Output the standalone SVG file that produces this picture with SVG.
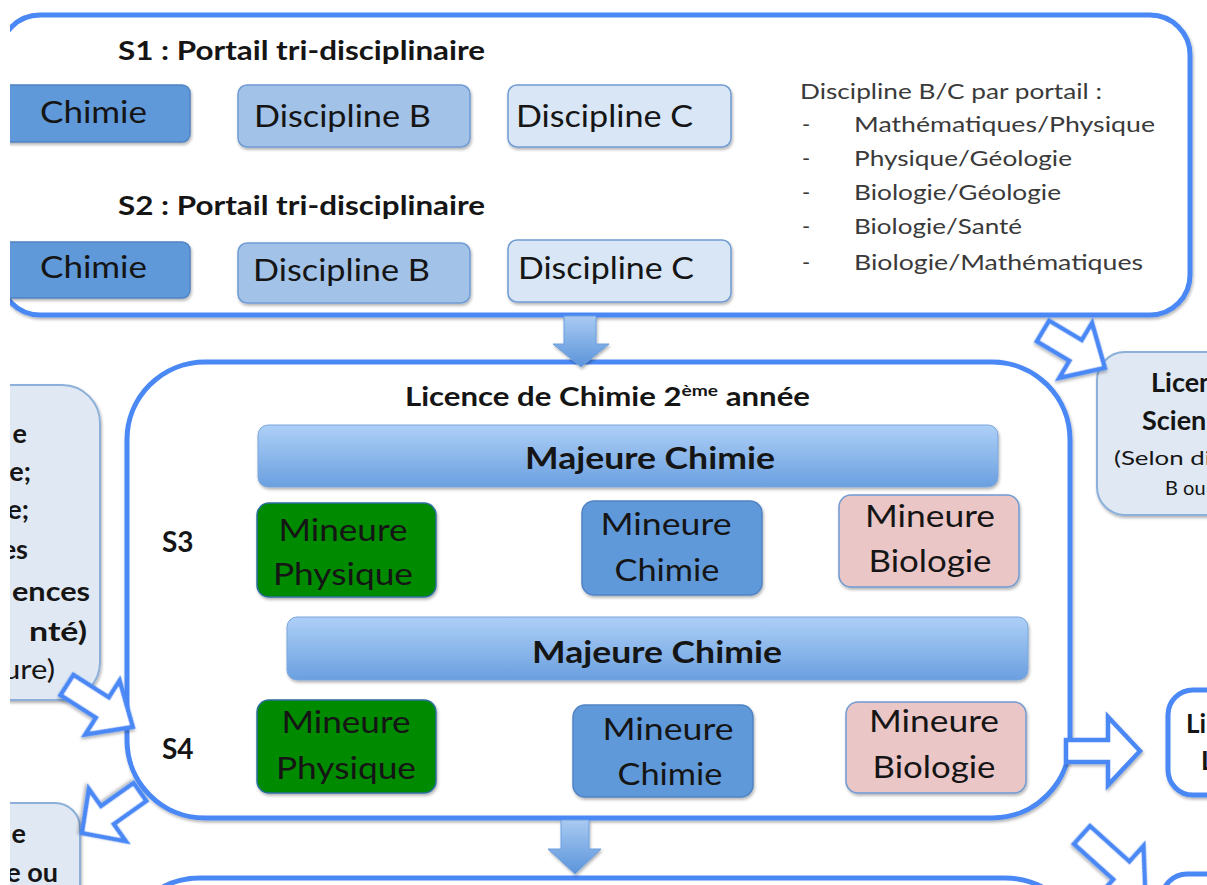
<svg xmlns="http://www.w3.org/2000/svg" width="1207" height="885" viewBox="0 0 1207 885">
<defs>
<style>
.t{font-family:Lato,"Open Sans","Liberation Sans",sans-serif;fill:#151515}
.b{font-weight:bold}
.big{fill:#fff;stroke:#4a88f5;stroke-width:5}
.arr{fill:#fff;stroke:#4a88f5;stroke-width:4.5;stroke-linejoin:miter}
.down{fill:url(#gArr);stroke:#6d9fe0;stroke-width:1}
.side{fill:#dfe8f3;stroke:#8cb0da;stroke-width:2}
.c1{fill:#6199d9;stroke:#4f83c4;stroke-width:1.5}
.c2{fill:#a2c2e8;stroke:#6f9bd3;stroke-width:1.5}
.c3{fill:#d9e6f5;stroke:#6f9bd3;stroke-width:1.5}
.gr{fill:#008a00;stroke:#2c6f9f;stroke-width:1.5}
.pk{fill:#ebc6c6;stroke:#6f9bd3;stroke-width:1.5}
.bar{fill:url(#gBar);stroke:#7aa6dc;stroke-width:1}
.f30{font-size:30px}
.gray{fill:#3a3a3a}
</style>
<linearGradient id="gBar" x1="0" y1="0" x2="0" y2="1">
<stop offset="0" stop-color="#aed0f7"/>
<stop offset="1" stop-color="#6a9fe0"/>
</linearGradient>
<linearGradient id="gArr" x1="0" y1="0" x2="0" y2="1">
<stop offset="0" stop-color="#a9caf2"/>
<stop offset="1" stop-color="#5a94da"/>
</linearGradient>
<filter id="sh" x="-10%" y="-10%" width="130%" height="140%">
<feDropShadow dx="1" dy="2" stdDeviation="1.5" flood-color="#000" flood-opacity="0.3"/>
</filter>
<clipPath id="clip"><rect x="10" y="0" width="1197" height="885"/></clipPath>
</defs>
<rect x="0" y="0" width="1207" height="885" fill="#fff"/>
<g clip-path="url(#clip)">

<g id="node-portail">
<rect class="big" x="0" y="15" width="1190" height="300" rx="40" filter="url(#sh)"/>
<text class="t b" x="118" y="60" font-size="26" textLength="367" lengthAdjust="spacingAndGlyphs">S1 : Portail tri-disciplinaire</text>
<text class="t b" x="118" y="215" font-size="26" textLength="367" lengthAdjust="spacingAndGlyphs">S2 : Portail tri-disciplinaire</text>
<g id="s1-chimie"><rect class="c1" x="0" y="85" width="190" height="57" rx="8" filter="url(#sh)"/>
<text class="t f30" x="40" y="123" textLength="107" lengthAdjust="spacingAndGlyphs">Chimie</text></g>
<g id="s1-discB"><rect class="c2" x="238" y="85" width="232" height="62" rx="9" filter="url(#sh)"/>
<text class="t f30" x="254" y="127" textLength="177" lengthAdjust="spacingAndGlyphs">Discipline B</text></g>
<g id="s1-discC"><rect class="c3" x="508" y="85" width="223" height="62" rx="9" filter="url(#sh)"/>
<text class="t f30" x="516" y="127" textLength="177" lengthAdjust="spacingAndGlyphs">Discipline C</text></g>
<g id="s2-chimie"><rect class="c1" x="0" y="242" width="190" height="56" rx="8" filter="url(#sh)"/>
<text class="t f30" x="40" y="278" textLength="107" lengthAdjust="spacingAndGlyphs">Chimie</text></g>
<g id="s2-discB"><rect class="c2" x="238" y="243" width="232" height="60" rx="9" filter="url(#sh)"/>
<text class="t f30" x="253" y="281" textLength="177" lengthAdjust="spacingAndGlyphs">Discipline B</text></g>
<g id="s2-discC"><rect class="c3" x="508" y="240" width="223" height="62" rx="9" filter="url(#sh)"/>
<text class="t f30" x="518" y="279" textLength="176" lengthAdjust="spacingAndGlyphs">Discipline C</text></g>
<g id="liste" class="t gray" font-size="22">
<text x="800" y="99" textLength="302" lengthAdjust="spacingAndGlyphs">Discipline B/C par portail :</text>
<text x="802" y="132">-</text><text x="854" y="132" textLength="301" lengthAdjust="spacingAndGlyphs">Mathématiques/Physique</text>
<text x="802" y="166">-</text><text x="854" y="166" textLength="218" lengthAdjust="spacingAndGlyphs">Physique/Géologie</text>
<text x="802" y="200">-</text><text x="854" y="200" textLength="207" lengthAdjust="spacingAndGlyphs">Biologie/Géologie</text>
<text x="802" y="234">-</text><text x="854" y="234" textLength="168" lengthAdjust="spacingAndGlyphs">Biologie/Santé</text>
<text x="802" y="270">-</text><text x="854" y="270" textLength="289" lengthAdjust="spacingAndGlyphs">Biologie/Mathématiques</text>
</g>
</g>

<g id="node-licence-sciences">
<rect class="side" x="1097" y="352" width="160" height="163" rx="28" filter="url(#sh)"/>
<text class="t b" x="1151" y="392" font-size="27">Licen</text>
<text class="t b" x="1142" y="430" font-size="27">Scien</text>
<text class="t" x="1114" y="465" font-size="20" textLength="97" lengthAdjust="spacingAndGlyphs">(Selon di</text>
<text class="t" x="1165" y="495" font-size="20">B ou</text>
</g>

<g id="node-gauche">
<rect class="side" x="-40" y="385" width="140" height="315" rx="38" filter="url(#sh)"/>
<g class="t b" font-size="27" text-anchor="end">
<text x="27" y="443">e</text>
<text x="31" y="481">e;</text>
<text x="29" y="519">e;</text>
<text x="28" y="559">es</text>
<text x="90" y="601" textLength="78" lengthAdjust="spacingAndGlyphs">ences</text>
<text x="87" y="641" textLength="58" lengthAdjust="spacingAndGlyphs">nté)</text>
</g>
<text class="t" x="55" y="679" font-size="27" text-anchor="end" textLength="52" lengthAdjust="spacingAndGlyphs">ure)</text>
</g>

<g id="node-bas-gauche">
<rect class="side" x="-40" y="803" width="120" height="130" rx="25" filter="url(#sh)"/>
<text class="t b" x="26" y="843" font-size="27" text-anchor="end">e</text>
<text class="t b" x="58" y="882" font-size="27" text-anchor="end">e ou</text>
</g>

<g id="node-licence-2">
<rect class="big" x="127" y="362" width="943" height="456" rx="78" filter="url(#sh)"/>
<text class="t b" x="405" y="406" font-size="26" textLength="405" lengthAdjust="spacingAndGlyphs">Licence de Chimie 2<tspan dy="-10" font-size="16">ème</tspan><tspan dy="10"> année</tspan></text>
<text class="t b" x="162" y="552" font-size="28">S3</text>
<text class="t b" x="162" y="759" font-size="28">S4</text>
<g id="maj1"><rect class="bar" x="258" y="425" width="740" height="62" rx="10" filter="url(#sh)"/>
<text class="t b" x="650" y="469" font-size="31" text-anchor="middle" textLength="250" lengthAdjust="spacingAndGlyphs">Majeure Chimie</text></g>
<g id="maj2"><rect class="bar" x="287" y="617" width="741" height="63" rx="10" filter="url(#sh)"/>
<text class="t b" x="657" y="663" font-size="31" text-anchor="middle" textLength="250" lengthAdjust="spacingAndGlyphs">Majeure Chimie</text></g>
<g class="t f30" text-anchor="middle">
<g id="s3-phys"><rect class="gr" x="257" y="503" width="179" height="94" rx="12" filter="url(#sh)"/>
<text x="343" y="541" textLength="129" lengthAdjust="spacingAndGlyphs">Mineure</text>
<text x="343" y="585" textLength="140" lengthAdjust="spacingAndGlyphs">Physique</text></g>
<g id="s3-chim"><rect class="c1" x="582" y="501" width="180" height="94" rx="12" filter="url(#sh)"/>
<text x="666" y="535" textLength="131" lengthAdjust="spacingAndGlyphs">Mineure</text>
<text x="667" y="581" textLength="105" lengthAdjust="spacingAndGlyphs">Chimie</text></g>
<g id="s3-bio"><rect class="pk" x="839" y="495" width="180" height="92" rx="12" filter="url(#sh)"/>
<text x="930" y="527" textLength="130" lengthAdjust="spacingAndGlyphs">Mineure</text>
<text x="930" y="572" textLength="123" lengthAdjust="spacingAndGlyphs">Biologie</text></g>
<g id="s4-phys"><rect class="gr" x="257" y="700" width="179" height="93" rx="12" filter="url(#sh)"/>
<text x="346" y="733" textLength="129" lengthAdjust="spacingAndGlyphs">Mineure</text>
<text x="346" y="779" textLength="140" lengthAdjust="spacingAndGlyphs">Physique</text></g>
<g id="s4-chim"><rect class="c1" x="573" y="705" width="180" height="92" rx="12" filter="url(#sh)"/>
<text x="668" y="740" textLength="131" lengthAdjust="spacingAndGlyphs">Mineure</text>
<text x="670" y="785" textLength="105" lengthAdjust="spacingAndGlyphs">Chimie</text></g>
<g id="s4-bio"><rect class="pk" x="846" y="702" width="180" height="91" rx="12" filter="url(#sh)"/>
<text x="934" y="732" textLength="130" lengthAdjust="spacingAndGlyphs">Mineure</text>
<text x="934" y="778" textLength="123" lengthAdjust="spacingAndGlyphs">Biologie</text></g>
</g>
</g>

<g id="node-droite">
<rect class="big" x="1168" y="690" width="100" height="105" rx="25" filter="url(#sh)"/>
<text class="t b" x="1186" y="733" font-size="26">Li</text>
<text class="t b" x="1201" y="770" font-size="26">L</text>
</g>

<g id="node-bas">
<rect class="big" x="130" y="878" width="945" height="120" rx="70"/>
</g>
<g id="node-bas-droite">
<rect class="big" x="1162" y="874" width="100" height="100" rx="25"/>
</g>

<g id="connectors">
<polygon class="down" points="564,316 596,316 596,344 609,344 581,367 553,344 564,344" filter="url(#sh)"/>
<polygon class="down" points="561,820 589,820 589,849 601,849 575,874 548,849 561,849" filter="url(#sh)"/>
<polygon class="arr" transform="translate(1043,331) rotate(30.8)" points="0,-12 38,-12 38,-32 72,0 38,32 38,12 0,12" filter="url(#sh)"/>
<polygon class="arr" transform="translate(67,685) rotate(32.5)" points="0,-12 42,-12 42,-32 78,0 42,32 42,12 0,12" filter="url(#sh)"/>
<polygon class="arr" transform="translate(140,792) rotate(144.7)" points="0,-11 40,-11 40,-32 71,0 40,32 40,11 0,11" filter="url(#sh)"/>
<polygon class="arr" transform="translate(1066,751) rotate(0)" points="0,-11 42,-11 42,-34 74,0 42,34 42,11 0,11" filter="url(#sh)"/>
<polygon class="arr" transform="translate(1082,835) rotate(42)" points="0,-12 53,-12 53,-33 85,0 53,33 53,12 0,12" filter="url(#sh)"/>
</g>
</g>
</svg>
